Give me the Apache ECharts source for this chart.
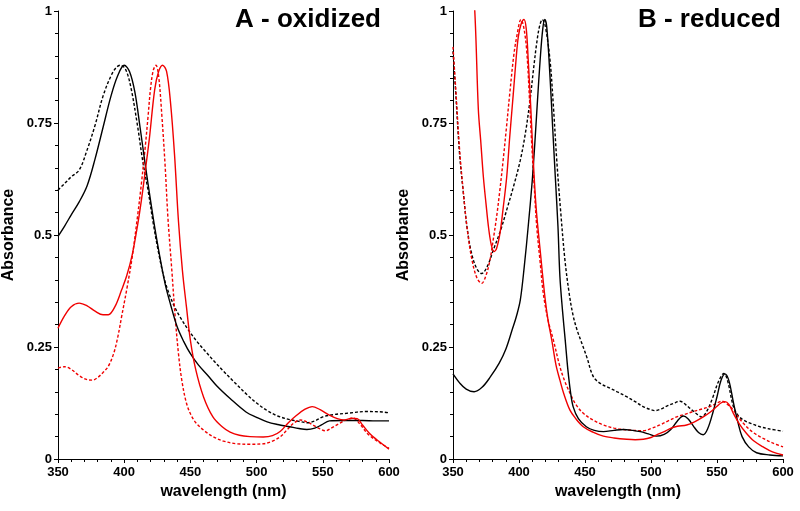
<!DOCTYPE html>
<html>
<head>
<meta charset="utf-8">
<script src="https://cdn.jsdelivr.net/npm/echarts@6/dist/echarts.min.js"></script>
<style>html,body{margin:0;padding:0;background:#fff}#c{width:800px;height:511px}</style>
</head>
<body>
<div id="c"></div>
<script>
// ---- Data: [wavelength (nm), absorbance] ----
const xTicks = [350, 400, 450, 500, 550, 600];
const yTicks = [0, 0.25, 0.5, 0.75, 1];
const titles = ['A - oxidized', 'B - reduced'];

const oxBlackSolid = [[350,0.497],[355,0.52],[360,0.545],[366,0.574],[372,0.61],[378,0.67],[384,0.74],[390,0.81],[395,0.855],[400,0.879],[404,0.865],[408,0.82],[412,0.74],[416,0.655],[420,0.575],[423,0.518],[427,0.45],[431,0.39],[435,0.345],[440,0.295],[445,0.262],[450,0.235],[456,0.21],[463,0.187],[470,0.163],[480,0.135],[492,0.105],[500,0.093],[508,0.083],[516,0.077],[525,0.072],[532,0.068],[538,0.066],[544,0.069],[549,0.076],[555,0.085],[565,0.086],[580,0.086],[590,0.085],[600,0.085]];
const oxBlackDashed = [[350,0.60],[355,0.615],[360,0.63],[366,0.645],[372,0.69],[378,0.745],[384,0.81],[390,0.855],[394,0.874],[397,0.879],[401,0.87],[405,0.83],[410,0.745],[414,0.665],[418,0.60],[422,0.525],[426,0.46],[430,0.405],[434,0.368],[438,0.34],[442,0.318],[448,0.29],[455,0.262],[462,0.238],[468,0.218],[475,0.196],[483,0.172],[493,0.143],[500,0.125],[508,0.108],[516,0.096],[525,0.088],[532,0.084],[538,0.081],[544,0.085],[550,0.094],[558,0.099],[568,0.102],[583,0.106],[595,0.105],[600,0.103]];
const oxRedSolid = [[350,0.292],[355,0.32],[360,0.34],[366,0.348],[372,0.342],[378,0.33],[384,0.322],[388,0.322],[393,0.34],[398,0.377],[402,0.41],[406,0.455],[410,0.52],[413,0.578],[416,0.645],[419,0.715],[423,0.824],[426,0.865],[429,0.879],[432,0.865],[435,0.795],[438,0.68],[441,0.53],[444,0.42],[447,0.34],[450,0.265],[454,0.2],[460,0.138],[467,0.094],[474,0.072],[480,0.06],[487,0.053],[495,0.05],[505,0.049],[512,0.052],[518,0.062],[524,0.081],[530,0.097],[536,0.11],[542,0.117],[548,0.11],[555,0.098],[561,0.09],[566,0.087],[572,0.091],[576,0.09],[580,0.076],[585,0.058],[592,0.04],[600,0.022]];
const oxRedDashed = [[350,0.203],[355,0.206],[360,0.2],[366,0.186],[372,0.177],[376,0.176],[380,0.182],[384,0.193],[388,0.207],[392,0.235],[395,0.27],[398,0.317],[402,0.38],[406,0.45],[410,0.54],[413,0.615],[416,0.7],[418,0.764],[420,0.83],[422,0.868],[424,0.879],[426,0.855],[428.5,0.764],[431,0.65],[433,0.54],[436,0.42],[438.5,0.317],[441,0.235],[443.5,0.176],[447,0.125],[451,0.095],[455,0.078],[461,0.062],[467,0.05],[475,0.04],[485,0.034],[495,0.033],[505,0.034],[512,0.04],[518,0.05],[523,0.065],[528,0.08],[533,0.087],[538,0.083],[543,0.075],[548,0.067],[552,0.063],[557,0.07],[563,0.08],[568,0.088],[573,0.091],[578,0.078],[584,0.056],[592,0.038],[600,0.024]];

const redBlackSolid = [[350,0.19],[355,0.17],[360,0.156],[366,0.15],[372,0.16],[378,0.182],[385,0.214],[390,0.245],[395,0.29],[398,0.318],[401,0.355],[404,0.43],[407,0.52],[410,0.62],[412,0.705],[414,0.8],[416,0.89],[418,0.96],[419.5,0.981],[421,0.965],[423.5,0.853],[425.5,0.74],[427.5,0.63],[429.5,0.52],[431,0.407],[433,0.33],[435,0.266],[437,0.2],[439,0.15],[441,0.117],[445,0.09],[451,0.072],[457,0.064],[464,0.061],[472,0.064],[479,0.066],[486,0.064],[492,0.061],[498,0.056],[504,0.051],[510,0.055],[515,0.066],[520,0.085],[524.5,0.096],[528,0.09],[532,0.074],[536,0.059],[539.5,0.054],[543,0.068],[547,0.105],[550,0.139],[553,0.175],[556,0.19],[559,0.175],[562.5,0.125],[566,0.08],[569,0.05],[574,0.027],[580,0.014],[590,0.009],[600,0.007]];
const redBlackDashed = [[350,0.91],[352,0.82],[355,0.68],[358,0.59],[360.5,0.52],[364,0.46],[368,0.425],[371.7,0.414],[376,0.43],[380.6,0.467],[386,0.51],[390.7,0.556],[396,0.61],[401,0.667],[405,0.73],[408.3,0.80],[411,0.87],[413.4,0.928],[415.5,0.965],[417.7,0.981],[420,0.965],[423.5,0.89],[426,0.79],[428.6,0.667],[431.5,0.555],[434.8,0.444],[438,0.37],[441,0.32],[444,0.288],[448,0.255],[451.3,0.228],[456.3,0.184],[462,0.168],[469,0.158],[475,0.149],[481.6,0.139],[488,0.128],[494,0.117],[500,0.11],[503,0.108],[508,0.112],[512,0.118],[517,0.124],[522,0.129],[526,0.122],[529.5,0.113],[534,0.102],[538.4,0.094],[542,0.105],[547,0.139],[551,0.172],[555.3,0.191],[558,0.175],[562.4,0.117],[566,0.097],[570,0.087],[576,0.079],[582.6,0.072],[590,0.067],[600,0.062]];
const redRedSolid = [[350,1.6],[355,1.4],[360,1.22],[364,1.08],[366.5,1.0],[369.2,0.78],[371,0.71],[373,0.63],[375,0.57],[377,0.515],[379,0.478],[381,0.463],[383,0.47],[385.6,0.504],[388,0.56],[390.7,0.63],[393,0.72],[395.7,0.816],[398,0.9],[399.5,0.943],[401.5,0.97],[403.8,0.981],[405.5,0.96],[407,0.89],[409,0.78],[410.8,0.667],[413,0.56],[416,0.467],[419.7,0.36],[422,0.31],[424.8,0.266],[428,0.21],[431,0.176],[434,0.145],[438.6,0.109],[443,0.09],[448.7,0.072],[456,0.06],[463.9,0.051],[472,0.047],[481.6,0.044],[488,0.043],[494.2,0.044],[500,0.048],[504.3,0.054],[510,0.061],[514.4,0.068],[520,0.073],[527,0.076],[533,0.083],[539.6,0.094],[545,0.105],[549.8,0.117],[553,0.125],[556,0.128],[559,0.122],[562.4,0.102],[567,0.078],[572.4,0.057],[578,0.04],[585,0.027],[592,0.016],[600,0.009]];
const redRedDashed = [[350,0.92],[352,0.83],[355,0.69],[358,0.59],[360.5,0.52],[364,0.45],[368,0.405],[371.7,0.392],[375,0.41],[378,0.444],[380.5,0.49],[383,0.54],[385.5,0.6],[388,0.667],[390.5,0.74],[393,0.816],[396,0.9],[398.3,0.943],[401.5,0.981],[403.5,0.965],[405.8,0.913],[408,0.8],[409.6,0.705],[411.5,0.61],[413.4,0.52],[416,0.44],[418.4,0.37],[422,0.31],[426,0.266],[431,0.206],[434.5,0.175],[438.6,0.147],[443,0.122],[448.7,0.102],[456,0.087],[463.9,0.076],[472,0.069],[481.6,0.065],[494.2,0.063],[500,0.068],[506.8,0.076],[513,0.085],[519.5,0.094],[526,0.1],[532,0.106],[538,0.111],[544.7,0.117],[549,0.123],[553.6,0.129],[558,0.122],[562.4,0.109],[567,0.09],[572.4,0.072],[578,0.058],[585,0.046],[592,0.036],[600,0.027]];

// ---- Chart ----
const FONT = 'Liberation Sans, Arial, Helvetica, sans-serif';
const RED = '#f00000';
const BLACK = '#000000';

function xAxis(i) {
  return {
    gridIndex: i, type: 'value', min: xTicks[0], max: xTicks[xTicks.length - 1],
    interval: xTicks[1] - xTicks[0],
    name: 'wavelength (nm)', nameLocation: 'middle', nameGap: 25,
    nameTextStyle: { fontSize: 16, fontWeight: 'bold', color: '#000', fontFamily: FONT },
    axisLine: { show: true, lineStyle: { color: '#000', width: 1 } },
    axisTick: { show: true, length: 4, lineStyle: { color: '#000', width: 1 } },
    minorTick: { show: true, splitNumber: 5, length: 3, lineStyle: { color: '#000', width: 1 } },
    splitLine: { show: false }, minorSplitLine: { show: false },
    axisLabel: { fontSize: 13, fontWeight: 'bold', color: '#000', fontFamily: FONT, margin: 7 }
  };
}
function yAxis(i) {
  return {
    gridIndex: i, type: 'value', min: yTicks[0], max: yTicks[yTicks.length - 1],
    interval: yTicks[1] - yTicks[0],
    name: 'Absorbance', nameLocation: 'middle', nameGap: 41,
    nameTextStyle: { fontSize: 16, fontWeight: 'bold', color: '#000', fontFamily: FONT },
    axisLine: { show: true, lineStyle: { color: '#000', width: 1 } },
    axisTick: { show: true, length: 4, lineStyle: { color: '#000', width: 1 } },
    minorTick: { show: true, splitNumber: 5, length: 3, lineStyle: { color: '#000', width: 1 } },
    splitLine: { show: false }, minorSplitLine: { show: false },
    axisLabel: { fontSize: 13, fontWeight: 'bold', color: '#000', fontFamily: FONT, margin: 6 }
  };
}
function line(data, i, color, dashed) {
  return {
    type: 'line', xAxisIndex: i, yAxisIndex: i, data: data,
    smooth: 0.35, showSymbol: false, symbol: 'none', clip: true, silent: true,
    lineStyle: { color: color, width: 1.4, type: dashed ? [3, 2] : 'solid' },
    z: dashed ? 2 : 3
  };
}

const chart = echarts.init(document.getElementById('c'), null, { renderer: 'canvas' });
chart.setOption({
  backgroundColor: '#fff',
  animation: false,
  title: [
    { text: titles[0], right: 419, top: 7, padding: 0, textStyle: { fontSize: 26, fontWeight: 'bold', color: '#000', fontFamily: FONT } },
    { text: titles[1], right: 19, top: 7, padding: 0, textStyle: { fontSize: 26, fontWeight: 'bold', color: '#000', fontFamily: FONT } }
  ],
  grid: [
    { left: 58, top: 11, width: 331, height: 448, containLabel: false },
    { left: 453, top: 11, width: 330, height: 448, containLabel: false }
  ],
  xAxis: [xAxis(0), xAxis(1)],
  yAxis: [yAxis(0), yAxis(1)],
  series: [
    line(oxBlackDashed, 0, BLACK, true),
    line(oxRedDashed, 0, RED, true),
    line(oxBlackSolid, 0, BLACK, false),
    line(oxRedSolid, 0, RED, false),
    line(redBlackDashed, 1, BLACK, true),
    line(redRedDashed, 1, RED, true),
    line(redBlackSolid, 1, BLACK, false),
    line(redRedSolid, 1, RED, false)
  ]
});
</script>
</body>
</html>
